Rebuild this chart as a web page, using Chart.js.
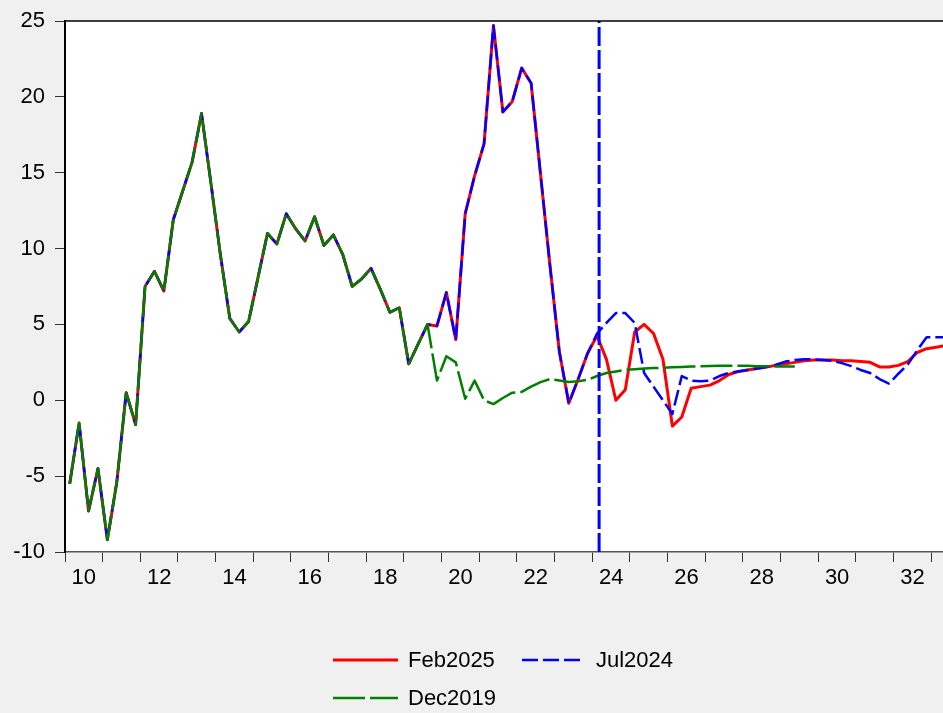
<!DOCTYPE html>
<html>
<head>
<meta charset="utf-8">
<script src="https://cdn.jsdelivr.net/npm/chart.js@4.4.1/dist/chart.umd.min.js"></script>
<style>
  body { margin: 0; background: #f0f0f0; overflow: hidden; font-family: "Liberation Sans", Arial, sans-serif; }
  #wrap { position: relative; width: 943px; height: 713px; }
  .legend-item { position: absolute; display: flex; align-items: center; height: 30px; font-size: 22px; color: #000; }
  .legend-item svg { display: block; }
</style>
</head>
<body>
<div id="wrap">
  <canvas id="chart"></canvas>
  <div class="legend-item" style="left:333px; top:645px;">
    <svg width="65" height="6"><line x1="0" y1="3" x2="65" y2="3" stroke="#ff0000" stroke-width="3"/></svg>
    <span style="margin-left:10px;">Feb2025</span>
  </div>
  <div class="legend-item" style="left:522px; top:645px;">
    <svg width="60" height="6"><line x1="0" y1="3" x2="60" y2="3" stroke="#0000ff" stroke-width="2.5" stroke-dasharray="16 5"/></svg>
    <span style="margin-left:14px;">Jul2024</span>
  </div>
  <div class="legend-item" style="left:333px; top:683px;">
    <svg width="65" height="6"><line x1="0" y1="3" x2="65" y2="3" stroke="#008000" stroke-width="2.5" stroke-dasharray="32 5"/></svg>
    <span style="margin-left:10px;">Dec2019</span>
  </div>
</div>
<script>
// Quarterly data, first point is 2010Q1
const startYear = 2010;

// shared history 2010Q1 - 2019Q3
const history = [
  -5.5, -1.5, -7.3, -4.5, -9.2, -5.4, 0.5, -1.6,
  7.5, 8.5, 7.2, 11.9, 13.8, 15.7, 18.9, 14.3,
  9.6, 5.4, 4.5, 5.2, 8.1, 11.0, 10.3, 12.3,
  11.3, 10.5, 12.1, 10.2, 10.9, 9.6, 7.5, 8.0,
  8.7, 7.3, 5.8, 6.1, 2.4, 3.7, 5.0
];

// from 2019Q4 onwards
const feb2025 = [
  4.9, 7.1, 4.0, 12.3, 14.8, 16.9, 24.7, 19.0, 19.7, 21.9, 20.9,
  14.9, 8.9, 3.2, -0.2, 1.4, 3.1, 4.25, 2.7, 0.0, 0.7, 4.5,
  5.0, 4.4, 2.7, -1.7, -1.1, 0.8, 0.9, 1.0, 1.3, 1.7, 1.9,
  2.0, 2.1, 2.2, 2.3, 2.4, 2.5, 2.6, 2.65, 2.65, 2.65, 2.6,
  2.6, 2.55, 2.5, 2.2, 2.2, 2.3, 2.55, 3.15, 3.4, 3.5, 3.6
];

const jul2024 = [
  4.9, 7.1, 4.0, 12.3, 14.8, 16.9, 24.7, 19.0, 19.7, 21.9, 20.9,
  14.9, 8.9, 3.2, -0.2, 1.4, 3.1, 4.4, 5.1, 5.75, 5.75, 5.1,
  1.8, 0.9, 0.0, -0.9, 1.6, 1.3, 1.25, 1.3, 1.6, 1.8, 1.9,
  2.0, 2.1, 2.2, 2.35, 2.55, 2.65, 2.7, 2.7, 2.65, 2.6, 2.45,
  2.25, 2.0, 1.8, 1.4, 1.1, 1.75, 2.35, 3.3, 4.15, 4.15, 4.15
];

const dec2019 = [
  1.3, 2.9, 2.5, 0.1, 1.3, 0.0, -0.25, 0.15, 0.5, 0.55, 0.9,
  1.2, 1.4, 1.3, 1.2, 1.25, 1.35, 1.6, 1.8, 1.9, 2.0, 2.05,
  2.1, 2.12, 2.15, 2.18, 2.2, 2.22, 2.24, 2.26, 2.27, 2.28, 2.28,
  2.27, 2.25, 2.24, 2.23, 2.22, 2.22
];

// vertical marker (forecast start)
const markerX = 2024.18;

// axis
const yMin = -10, yMax = 25, yStep = 5;
const xMin = 2010, xMax = 2033.31;

function toPoints(values) {
  return values.map((v, i) => ({ x: startYear + (i + 0.5) / 4, y: v }));
}

const font = { family: '"Liberation Sans", Arial, sans-serif', size: 22, lineHeight: 1 };

// white plot area and top border
const plotFrame = {
  id: 'plotFrame',
  beforeDraw(chart) {
    const { ctx, chartArea: a } = chart;
    ctx.save();
    ctx.fillStyle = '#ffffff';
    ctx.fillRect(a.left, a.top, a.right - a.left, a.bottom - a.top);
    ctx.restore();
  },
  afterDraw(chart) {
    const { ctx, chartArea: a } = chart;
    ctx.save();
    ctx.strokeStyle = '#000';
    ctx.lineWidth = 1.5;
    ctx.beginPath();
    ctx.moveTo(a.left, a.top);
    ctx.lineTo(a.right, a.top);
    ctx.stroke();
    ctx.restore();
  }
};

const yearTicks = [];
for (let y = 2010; y <= 2033; y++) yearTicks.push({ value: y });

new Chart(document.getElementById('chart'), {
  type: 'line',
  data: {
    datasets: [
      {
        label: 'marker',
        data: [{ x: markerX, y: yMin }, { x: markerX, y: yMax }],
        borderColor: '#0000ff',
        borderWidth: 3,
        borderDash: [19, 4],
        order: 0
      },
      {
        label: 'Dec2019',
        data: toPoints(history.concat(dec2019)),
        borderColor: '#008000',
        borderWidth: 2.5,
        borderDash: [32, 5],
        order: 1
      },
      {
        label: 'Jul2024',
        data: toPoints(history.concat(jul2024)),
        borderColor: '#0000ff',
        borderWidth: 2.5,
        borderDash: [16, 5],
        order: 2
      },
      {
        label: 'Feb2025',
        data: toPoints(history.concat(feb2025)),
        borderColor: '#ff0000',
        borderWidth: 3,
        order: 3
      }
    ]
  },
  options: {
    responsive: true,
    maintainAspectRatio: false,
    animation: false,
    layout: { padding: { top: 20, right: 0, bottom: 0, left: 0 } },
    elements: { point: { radius: 0 }, line: { tension: 0, borderJoinStyle: 'round', borderCapStyle: 'butt' } },
    plugins: { legend: { display: false }, tooltip: { enabled: false } },
    scales: {
      x: {
        type: 'linear',
        min: xMin,
        max: xMax,
        afterBuildTicks: s => { s.ticks = yearTicks.slice(); },
        afterFit: s => { s.height = 161; },
        ticks: {
          autoSkip: false,
          maxRotation: 0,
          labelOffset: 18.8,
          padding: 5,
          font: font,
          color: '#000',
          callback: v => (v % 2 === 0 && v < 2033) ? String(v).slice(2) : ''
        },
        grid: { drawOnChartArea: false, drawTicks: true, tickLength: 10, color: '#333' },
        border: { color: '#555', width: 1.5 }
      },
      y: {
        min: yMin,
        max: yMax,
        afterFit: s => { s.width = 65; },
        ticks: { stepSize: yStep, padding: 10, font: font, color: '#000' },
        grid: { drawOnChartArea: false, drawTicks: true, tickLength: 10, color: '#333' },
        border: { color: '#000', width: 2 }
      }
    }
  },
  plugins: [plotFrame]
});
</script>
</body>
</html>
